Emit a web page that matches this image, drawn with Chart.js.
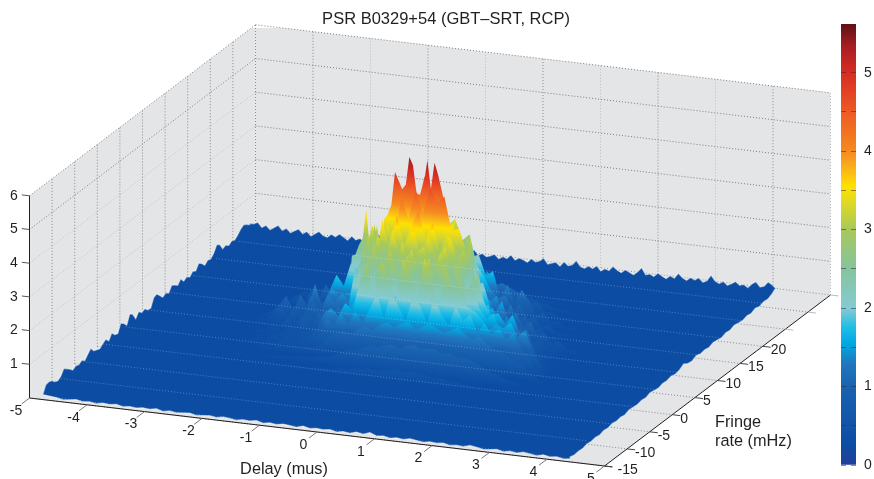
<!DOCTYPE html>
<html>
<head>
<meta charset="utf-8">
<style>
  html, body { margin: 0; background: #fff; }
  #wrap { position: relative; width: 874px; height: 479px; overflow: hidden; }
  canvas { position: absolute; }
</style>
<script src="https://cdn.jsdelivr.net/npm/chart.js@4"></script>
</head>
<body>
<div id="wrap">
  <canvas id="surface" width="874" height="479" style="left:0;top:0"></canvas>
  <canvas id="colorbar" width="44" height="465" style="left:830px;top:14px"></canvas>
</div>
<script>
// axis ticks
const delayTicks = [-5,-4,-3,-2,-1,0,1,2,3,4,5];
const fringeTicks = [-15,-10,-5,0,5,10,15,20,25,30,35];
const fringeLabels = [-15,-10,-5,0,5,10,15,20];
const ampTicks = [1,2,3,4,5,6];
const barTicks = [0,1,2,3,4,5];

// colour scale of the bar
const colorLevels = [0,.25,1,1.3,1.55,1.75,2,2.5,3,3.3,3.55,3.8,4,4.5,5,5.35,5.62];
const colorHexes = ['#223f98','#0c4da3','#1a62b0','#2078bf','#00a9e2','#1fbde6','#84cbd2','#86c49f','#a7c95a','#d8d72c','#ffe100','#f9ae1c','#f58a20','#ee5a25','#d82b23','#a51e22','#5c1113'];
const ampTop = 5.62;

// corners of the blue sheet [delay, fringe]
const sheetFrontLeft = [-4.8,-14.6];
const sheetBackLeft = [-4.96,33.2];
const sheetBackRight = [4.2,33.2];
const sheetFrontRight = [4.37,-14.6];

// noise heights read along the four borders of the sheet
const leftEdge = [.1,.32,.34,.3,.2,.16,.22,.38,.3,.22,.12,.18,.14,.2,.12,.24,.34,.2,.16,.12,.2,.26,.14,.3,.18,.14,.38,.3,.18,.44,.36,.16,.3,.2,.24,.14,.12,.36,.4,.28,.16,.22,.14,.3,.24,.16,.28,.14,.2,.12,.22,.16,.32,.24,.12,.2,.16,.26,.44,.38,.18,.22,.14,.2,.16,.24,.34,.4,.34,.26];
const backEdge = [.3,.3,.36,.22,.3,.18,.26,.34,.2,.28,.16,.24,.3,.18,.26,.14,.22,.3,.2,.16,.26,.2,.3,.22,.14,.28,.18,.24,.16,.3,.22,.46,.38,.2,.12,.22,.16,.24,.14,.2,.12,.18,.26,.14,.2,.16,.12,.22,.16,.28,.18,.14,.22,.12,.2,.3,.16,.22,.14,.18,.24,.12,.2,.16,.28,.14,.22,.18,.12,.24,.16,.2,.3,.14,.18,.22,.12,.26,.16,.2,.34,.18,.14,.22,.16,.26,.12,.2,.16,.3,.2,.14,.24,.18,.12,.22,.36,.16,.2,.14,.26,.18,.12,.22,.16,.32,.2,.14,.24,.18,.26,.14,.2,.38,.22,.16,.24,.14,.2,.28,.18,.22,.14,.26,.34,.2,.24,.38,.3,.2];
const rightEdge = [.26,.16,.1,.12,.08,.13,.07,.1,.06,.09,.12,.07,.1,.05,.08,.11,.06,.09,.07,.12,.06,.08,.17,.09,.06,.1,.07,.09,.05,.08,.11,.06,.09,.06,.08,.1,.05,.08,.06,.1,.06,.09,.05,.08,.06,.09,.05,.07,.06,.1];
const frontEdge = [.05,.02,.06,.03,.07,.02,.05,.08,.03,.06,.02,.07,.04,.02,.06,.09,.03,.05,.02,.07,.04,.06,.02,.05,.08,.03,.06,.02,.07,.04,.12,.05,.09,.03,.06,.02,.07,.04,.06,.03,.08,.02,.05,.07,.03,.06,.02,.08,.04,.06,.02,.05,.07,.03,.06,.04,.02,.07,.05,.03,.06,.02,.08,.04,.06,.03,.05,.02,.07,.04,.06,.02,.05,.03,.07,.04,.02,.06,.08,.1];

// fringe peak: one row of amplitudes per fringe rate, back to front
const peakDelays = [-3,-2.875,-2.75,-2.625,-2.5,-2.375,-2.25,-2.125,-2,-1.875,-1.75,-1.625,-1.5,-1.375,-1.25,-1.125,-1,-.875,-.75,-.625,-.5,-.375,-.25,-.125,0,.125,.25,.375,.5,.625,.75,.875,1,1.125,1.25,1.375,1.5,1.625,1.75,1.875,2,2.125,2.25,2.375,2.5,2.625,2.75,2.875,3];
const crestDelays = [-1.5,-1.4375,-1.375,-1.3125,-1.25,-1.1875,-1.125,-1.0625,-1,-.9375,-.875,-.8125,-.75,-.6875,-.625,-.5625,-.5,-.4375,-.375,-.3125,-.25,-.1875,-.125,-.0625,0,.0625,.125,.1875,.25,.3125,.375,.4375,.5,.5625,.625,.6875,.75,.8125,.875,.9375,1];
const peakFringes = [22,20,18,16,14,12,11,10,9,8,7,6,5,4,3,2,0,-2];
const row22 = [.25,.25,.3,.25,.3,.3,.35,.3,.3,.35,.4,.35,.4,.45,.5,.5,.6,.55,.7,.6,.7,.6,.7,.65,.7,.6,.65,.55,.55,.5,.45,.4,.4,.35,.35,.3,.3,.3,.3,.25,.25,.25,.25,.25,.25,.25,.2,.2,.2];
const row20 = [.3,.25,.3,.3,.3,.35,.35,.35,.4,.45,.4,.5,.5,.7,.6,.8,.7,.9,.8,1.0,1.1,1.0,1.1,.9,1.0,1.1,.9,.9,.8,.8,.75,.6,.6,.5,.5,.4,.4,.35,.3,.3,.3,.3,.25,.25,.25,.25,.2,.2,.2];
const row18 = [.3,.3,.35,.4,.35,.45,.4,.5,.45,.6,.5,.7,.6,.95,.8,1.1,1.0,1.5,1.2,1.7,1.5,1.8,1.5,1.9,1.4,1.7,1.3,1.5,1.1,1.2,1.1,1.0,.95,.7,.75,.5,.5,.4,.4,.35,.3,.3,.3,.25,.25,.25,.2,.2,.2];
const row16 = [.3,.3,.4,.5,.4,.6,.5,.7,.6,.9,.7,1.1,.9,1.4,1.2,1.8,1.5,2.1,1.9,2.4,2.1,2.6,2.3,2.7,2.4,2.5,2.1,2.2,1.6,1.75,1.0,1.4,.9,1.3,1.0,.6,.7,.45,.5,.35,.35,.3,.3,.25,.25,.25,.2,.2,.2];
const row14 = [.3,.35,.4,.6,.45,.8,.55,1.0,.7,1.2,.8,1.3,1.1,1.7,1.5,2.3,2.0,2.7,2.5,3.2,2.9,3.5,3.0,3.7,3.2,3.4,2.8,3.0,2.1,1.8,1.4,1.2,1.3,.9,1.1,.7,.8,.5,.6,.4,.4,.35,.3,.3,.25,.25,.25,.2,.2];
const row12 = [.3,.3,.4,.5,.4,.7,.5,.9,.6,1.1,.7,1.3,1.0,1.9,1.6,3.2,2.2,2.8,4.6,3.6,4.2,3.9,4.8,4.2,4.4,3.3,3.5,2.5,3.1,2.0,1.7,1.3,1.5,.9,1.3,.8,1.0,.6,.7,.45,.5,.35,.35,.3,.3,.25,.25,.2,.2];
const crest11 = [1.0,2.3,2.35,2.65,2.85,3.7,2.6,2.65,3.3,2.6,3.5,3.65,3.95,4.94,4.7,4.45,4.6,5.43,5.2,4.38,4.34,4.65,5.4,4.55,5.35,5.0,4.55,4.1,3.5,3.6,3.0,3.15,2.8,2.85,3.2,2.6,2.2,1.85,1.7,1.5,1.4];
const row10 = [.3,.4,.5,.7,1.0,.6,1.1,.7,1.45,.8,1.3,1.8,1.5,2.2,1.9,2.6,3.4,2.4,3.5,3.0,4.3,3.7,4.6,3.9,4.7,4.3,4.5,3.5,3.6,3.0,2.4,1.6,1.5,1.2,1.6,1.0,1.3,.9,1.1,.7,.8,.5,.6,.4,.4,.3,.3,.25,.2];
const row9 = [.3,.35,.4,.6,.8,.5,.9,.6,1.2,.9,1.1,1.5,1.3,1.4,1.5,2.0,3.2,2.5,3.7,2.9,3.9,3.1,3.6,4.1,3.3,3.8,3.0,3.5,3.2,2.6,3.1,2.1,2.2,1.5,1.3,1.0,1.3,.8,1.0,.6,.7,.45,.45,.35,.3,.3,.25,.2,.2];
const row8 = [.3,.3,.4,.3,.6,.4,.8,.5,.9,1.1,.8,1.4,1.2,1.5,1.3,1.8,3.0,2.4,3.4,2.5,3.6,2.9,3.3,3.7,2.8,3.5,3.0,2.6,3.6,2.9,3.2,2.0,2.6,1.5,1.6,1.1,1.4,.9,1.1,.7,.7,.45,.45,.35,.3,.3,.25,.2,.2];
const row7 = [.25,.3,.35,.3,.5,.4,.7,.5,.8,.9,.7,1.1,.9,1.2,1.1,1.2,2.6,1.9,3.2,2.5,2.9,2.3,3.4,2.6,3.1,3.3,2.6,3.0,3.4,2.4,3.1,2.0,2.7,1.6,1.8,1.1,1.4,1.0,1.2,.8,.8,.5,.5,.35,.3,.3,.25,.2,.2];
const row6 = [.25,.3,.3,.4,.35,.5,.4,.6,.5,.9,.6,1.1,.8,1.2,1.0,1.2,2.4,2.0,3.0,2.2,2.7,3.2,2.4,2.9,3.3,2.5,3.1,2.7,3.3,2.3,3.0,2.6,2.2,2.7,2.0,1.6,1.7,1.4,1.7,1.2,1.3,.7,.5,.35,.35,.3,.25,.25,.2];
const row5 = [.25,.25,.3,.35,.35,.4,.45,.5,.5,.6,.6,.7,.8,1.0,1.1,1.0,1.5,1.7,2.6,2.0,2.9,2.3,3.0,2.6,3.2,2.4,2.7,3.2,2.5,3.1,2.2,2.9,2.4,2.6,1.9,1.6,1.8,1.2,1.3,.8,.9,.6,.55,.4,.35,.3,.25,.25,.2];
const row4 = [.25,.25,.3,.3,.4,.35,.5,.4,.55,.5,.6,.6,.8,1.3,1.5,1.3,1.7,1.5,2.4,3.0,2.0,3.1,2.7,1.9,3.2,2.8,2.1,3.3,2.6,2.0,3.1,2.5,2.8,2.0,1.9,1.7,1.4,1.6,1.5,1.7,1.3,1.5,1.0,.6,.35,.3,.25,.25,.2];
const row3 = [.25,.25,.3,.3,.35,.35,.4,.4,.5,.45,.55,.55,.65,.8,1.3,1.1,1.5,1.2,1.6,1.3,1.7,2.2,1.5,2.3,1.9,1.5,2.2,2.0,1.5,2.3,1.8,1.5,2.1,1.7,1.9,1.4,1.7,1.4,1.6,1.3,1.5,1.1,.9,.5,.4,.3,.25,.25,.2];
const row2 = [.25,.25,.3,.3,.35,.3,.4,.35,.45,.4,.5,.45,.55,.5,.65,.9,1.0,1.1,1.0,1.2,1.3,1.2,1.4,1.5,1.4,1.5,1.6,1.4,1.5,1.6,1.5,1.4,1.5,1.6,1.4,1.3,1.4,1.2,1.1,1.0,.9,.8,.7,.5,.35,.3,.25,.2,.2];
const row0 = [.25,.25,.25,.3,.3,.3,.35,.3,.35,.35,.4,.4,.4,.45,.45,.5,.5,.6,.7,.8,.8,.9,1.0,.95,1.05,1.1,1.0,1.1,1.15,1.05,1.1,1.1,1.0,1.05,.95,.95,.9,.8,.7,.6,.55,.45,.4,.35,.3,.25,.25,.2,.2];
const rowM2 = [.2,.2,.25,.25,.25,.25,.3,.3,.3,.3,.3,.3,.35,.35,.35,.35,.4,.4,.4,.45,.45,.5,.5,.55,.5,.55,.55,.6,.55,.6,.55,.55,.5,.5,.45,.45,.4,.4,.35,.3,.3,.3,.25,.25,.25,.2,.2,.2,.2];
const peakRows = [row22,row20,row18,row16,row14,row12,crest11,row10,row9,row8,row7,row6,row5,row4,row3,row2,row0,rowM2];

// fixed 3d view, same as the plot box in the picture
function project(d, f, z) {
  return {
    x: 29.5 + 57.5*(d+5) + 4.52*(f+15),
    y: 398 + 6.8*(d+5) - 3.42*(f+15) - 33.7*z
  };
}

function along(a, b, vals) {
  // points of one sheet border, vals spaced evenly from corner a to corner b
  return vals.map((z, i) => {
    const t = i/(vals.length-1);
    return project(a[0]+(b[0]-a[0])*t, a[1]+(b[1]-a[1])*t, z);
  });
}

const datasets = [];
function poly(points, color, extra) {
  datasets.push(Object.assign({data: points, showLine: true, pointRadius: 0, borderWidth: 0, fill: 'shape', backgroundColor: color, clip: false}, extra));
}
function line(a, b, color, dash, width) {
  datasets.push({data: [a, b], showLine: true, pointRadius: 0, borderWidth: width || 1, borderColor: color, borderDash: dash || [], fill: false, clip: false});
}

// walls and floor
const wall = '#e4e5e7';
poly([project(-5,-15,0),project(-5,35,0),project(-5,35,6),project(-5,-15,6)], wall);
poly([project(-5,35,0),project(5,35,0),project(5,35,6),project(-5,35,6)], wall);
poly([project(-5,-15,0),project(5,-15,0),project(5,35,0),project(-5,35,0)], wall);

// grid on the walls
const dots = [1,2];
ampTicks.forEach(z => {
  line(project(-5,-15,z), project(-5,35,z), z > 4 ? '#7d7d7d' : '#c2c3c5', dots);
  line(project(-5,35,z), project(5,35,z), '#7d7d7d', dots);
});
delayTicks.forEach(d => line(project(d,35,0), project(d,35,6), d % 2 ? '#bdbdbf' : '#8a8a8a', dots));
fringeTicks.forEach(f => line(project(-5,f,0), project(-5,f,6), '#8a8a8a', dots));
fringeTicks.forEach(f => line(project(-5,f,0), project(5,f,0), '#8a8a8a', dots));

// blue sheet
const outline = [].concat(
  along(sheetFrontLeft, sheetBackLeft, leftEdge),
  along(sheetBackLeft, sheetBackRight, backEdge),
  along(sheetBackRight, sheetFrontRight, rightEdge),
  along(sheetFrontRight, sheetFrontLeft, frontEdge)
);
poly(outline, '#0c4da3', {borderWidth: 1.2, borderColor: 'rgba(255,255,255,.45)'});

// peak rows, back to front, coloured by height
function rowGradient(c) {
  const f = c.dataset && c.dataset.rowFringe;
  if (f === undefined || !c.chart.chartArea) return 'transparent';
  const sx = c.chart.scales.x, sy = c.chart.scales.y;
  const p = project(0, f, 0);
  const len = 33.47*ampTop;
  const x0 = sx.getPixelForValue(p.x), y0 = sy.getPixelForValue(p.y);
  if (!isFinite(x0) || !isFinite(y0)) return 'transparent';
  const g = c.chart.ctx.createLinearGradient(x0, y0,
    sx.getPixelForValue(p.x + .1174*len), sy.getPixelForValue(p.y - .9931*len));
  colorLevels.forEach((v, i) => g.addColorStop(v/ampTop, colorHexes[i]));
  return g;
}
peakRows.forEach((row, k) => {
  const f = peakFringes[k];
  const delays = row === crest11 ? crestDelays : peakDelays;
  const pts = row.map((z, i) => project(delays[i], f, z));
  pts.push(project(delays[row.length-1], f, .25), project(delays[0], f, .25));
  poly(pts, rowGradient, {rowFringe: f});
});

// floor grid seen through the surface
fringeTicks.slice(0, 10).forEach(f => line(project(-4.9,f,.1), project(4.3,f,.1), 'rgba(255,255,255,.28)', dots));

// axis lines and ticks
line(project(-5,-15,0), project(-5,-15,6), '#231f20');
line(project(-5,-15,0), project(5.13,-15,0), '#231f20');
line(project(5,-15,0), project(5,35,0), '#231f20');
ampTicks.forEach(z => line(project(-5,-15,z), project(-5.134,-15,z), '#555'));
delayTicks.forEach(d => line(project(d,-15,0), project(d,-16.75,0), '#777'));
fringeTicks.forEach(f => line(project(5,f,0), project(5.14,f,0), f > 20 ? '#bbb' : '#444'));

datasets.forEach((ds, i) => { ds.order = -i; });

const textColor = '#231f20';
const font = '"Liberation Sans", Arial, sans-serif';

const axisText = {
  id: 'axisText',
  afterDraw(chart) {
    const ctx = chart.ctx;
    ctx.save();
    ctx.fillStyle = textColor;
    ctx.font = '14px ' + font;
    ctx.textBaseline = 'middle';
    ctx.textAlign = 'center';
    delayTicks.forEach(d => {
      const p = project(d,-15,0);
      ctx.fillText(String(d), p.x-13.5, p.y+13);
    });
    ampTicks.forEach(z => {
      const p = project(-5,-15,z);
      ctx.fillText(String(z), p.x-15.5, p.y);
    });
    ctx.textAlign = 'left';
    fringeLabels.forEach(f => {
      const p = project(5,f,0);
      ctx.fillText(String(f), p.x+(f === -15 ? 13 : 8), p.y+4);
    });
    ctx.font = '16.3px ' + font;
    ctx.fillText('Fringe', 715, 423);
    ctx.fillText('rate (mHz)', 715, 442);
    ctx.textAlign = 'center';
    ctx.fillText('Delay (mus)', 284, 470);
    ctx.restore();
  }
};

new Chart(document.getElementById('surface'), {
  type: 'scatter',
  data: {datasets},
  plugins: [axisText],
  options: {
    responsive: false,
    animation: false,
    events: [],
    layout: {padding: {left: 18}},
    scales: {
      x: {type: 'linear', display: false, min: 18, max: 874},
      y: {type: 'linear', display: false, reverse: true, min: 28, max: 479}
    },
    plugins: {
      legend: {display: false},
      tooltip: {enabled: false},
      title: {
        display: true,
        text: 'PSR B0329+54 (GBT\u2013SRT, RCP)',
        color: textColor,
        font: {family: font, size: 16.5, weight: 'normal', lineHeight: 1},
        padding: {top: 11.5, bottom: 0}
      }
    }
  }
});

function barGradient(c) {
  const sy = c.chart.scales.y;
  if (!c.chart.chartArea || !sy) return 'transparent';
  const y0 = sy.getPixelForValue(0), y1 = sy.getPixelForValue(ampTop);
  if (!isFinite(y0) || !isFinite(y1)) return 'transparent';
  const g = c.chart.ctx.createLinearGradient(0, y0, 0, y1);
  colorLevels.forEach((v, i) => g.addColorStop(v/ampTop, colorHexes[i]));
  return g;
}

new Chart(document.getElementById('colorbar'), {
  type: 'bar',
  data: {
    labels: ['amp'],
    datasets: [{data: [[0, ampTop]], backgroundColor: barGradient, barPercentage: 1, categoryPercentage: 1, borderSkipped: false}]
  },
  options: {
    responsive: false,
    animation: false,
    events: [],
    layout: {autoPadding: false, padding: {left: 11, top: 10, bottom: 14}},
    scales: {
      x: {display: false},
      y: {
        position: 'right',
        min: 0,
        max: ampTop,
        afterFit(s) { s.width = 18; s.paddingTop = 0; s.paddingBottom = 0; },
        afterBuildTicks(s) { s.ticks = barTicks.concat([.5,1.5,2.5,3.5,4.5]).map(v => ({value: v})); },
        border: {display: false, dash: [5,5]},
        grid: {color: 'rgba(50,50,50,.55)', z: 1, drawTicks: false},
        ticks: {
          color: textColor,
          font: {family: font, size: 14},
          padding: 8,
          autoSkip: false,
          callback: v => barTicks.includes(v) ? String(v) : ''
        }
      }
    },
    plugins: {legend: {display: false}, tooltip: {enabled: false}}
  }
});
</script>
</body>
</html>
